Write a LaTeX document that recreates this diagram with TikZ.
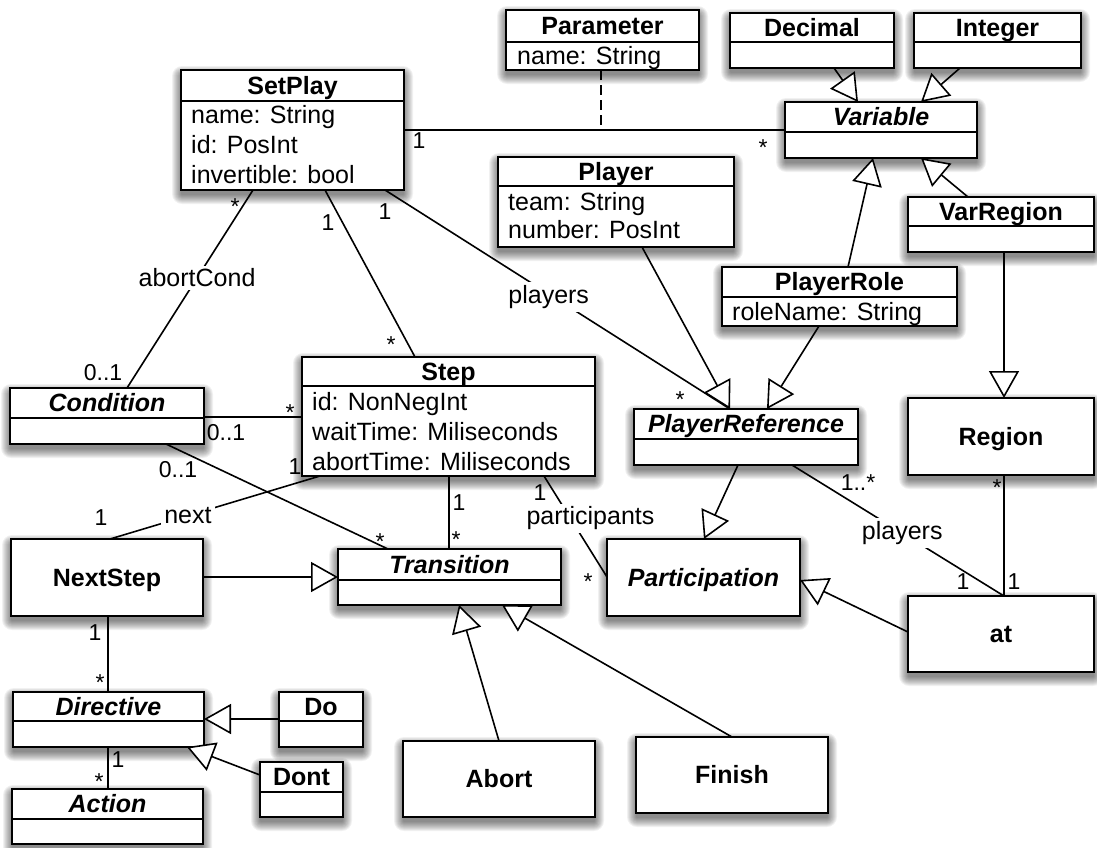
\documentclass[tikz,border=0pt]{standalone}
\usepackage{fontspec}
\setmainfont{Liberation Sans}
\usetikzlibrary{arrows.meta,calc}
\pgfdeclarelayer{paper}
\pgfdeclarelayer{shade}
\pgfsetlayers{paper,shade,main}

\tikzset{
  classbox/.style={draw, fill=white, line width=2.2pt, inner sep=0pt, outer sep=0pt},
  sepline/.style={line width=2.2pt},
  ctitle/.style={font=\fontsize{25}{30}\selectfont\bfseries, anchor=base, inner sep=0pt},
  atitle/.style={font=\fontsize{25}{30}\selectfont\bfseries\itshape, anchor=base, inner sep=0pt},
  attr/.style={font=\fontsize{25}{30}\selectfont, anchor=base west, inner sep=0pt},
  assoc/.style={line width=1.6pt},
  dep/.style={line width=1.6pt, dash pattern=on 10pt off 5pt},
  gen/.style={line width=1.6pt, -{Triangle[length=27pt, width=30pt, fill=white, line width=1.6pt]}},
  role/.style={font=\fontsize{25}{30}\selectfont, fill=white, inner sep=3pt},
  mult/.style={font=\fontsize{23}{28}\selectfont, inner sep=0pt},
  mstar/.style={mult, yshift=-5pt},
}

% soft drop shadow below a box given by its corners
\newcommand{\umlshade}[4]{%
  \begin{pgfonlayer}{shade}
    \foreach \r in {1,...,10}{
      \fill[black, opacity=0.055, rounded corners=\r pt]
        (#1-\r+1,#2+6-\r) rectangle (#3+\r-1,#4+4+\r);
    }
  \end{pgfonlayer}}
% class frame: name, x1, y1, x2, y2
\newcommand{\umlbox}[5]{%
  \umlshade{#2}{#3}{#4}{#5}
  \node[classbox, minimum width={(#4-#2)*1pt}, minimum height={(#5-#3)*1pt},
        anchor=north west] (#1) at (#2,#3) {};}
% compartment separator: box name, y
\newcommand{\umlsep}[2]{\draw[sepline] (#1.west |- 0,#2) -- (#1.east |- 0,#2);}

\begin{document}
\begin{tikzpicture}[x=1pt, y=-1pt]
\path[use as bounding box] (0,0) rectangle (1097,847);
\begin{pgfonlayer}{paper}
  \fill[white] (0,0) rectangle (1097,847);
\end{pgfonlayer}

% ---------- classes ----------
\umlbox{setplay}{181}{70}{404}{190}\umlsep{setplay}{101}
\node[ctitle] (setplay-t) at (292.5,94) {SetPlay};
\node[attr] (setplay-a1) at (191,123) {name: String};
\node[attr] (setplay-a2) at (191,153) {id: PosInt};
\node[attr] (setplay-a3) at (191,183) {invertible: bool};

\umlbox{parameter}{506}{10}{699}{70}\umlsep{parameter}{42}
\node[ctitle] (parameter-t) at (602.5,34.5) {Parameter};
\node[attr] (parameter-a1) at (517,64) {name: String};

\umlbox{decimal}{730}{13}{894}{68}\umlsep{decimal}{42}
\node[ctitle] (decimal-t) at (812,36) {Decimal};

\umlbox{integer}{914}{13}{1081}{68}\umlsep{integer}{42}
\node[ctitle] (integer-t) at (997.5,36) {Integer};

\umlbox{variable}{785}{102}{977}{158}\umlsep{variable}{132}
\node[atitle] (variable-t) at (881,125.5) {Variable};

\umlbox{player}{498}{157}{734}{247}\umlsep{player}{186}
\node[ctitle] (player-t) at (616,180) {Player};
\node[attr] (player-a1) at (508,210) {team: String};
\node[attr] (player-a2) at (508,238) {number: PosInt};

\umlbox{varregion}{908}{197}{1094}{252}\umlsep{varregion}{226}
\node[ctitle] (varregion-t) at (1001,220) {VarRegion};

\umlbox{playerrole}{722}{267}{957}{326}\umlsep{playerrole}{297}
\node[ctitle] (playerrole-t) at (839.5,290.5) {PlayerRole};
\node[attr] (playerrole-a1) at (732,320) {roleName: String};

\umlbox{condition}{10}{388}{204}{444}\umlsep{condition}{418}
\node[atitle] (condition-t) at (107,411.5) {Condition};

\umlbox{stepbox}{302}{357}{595}{476}\umlsep{stepbox}{386}
\node[ctitle] (stepbox-t) at (448.5,380) {Step};
\node[attr] (stepbox-a1) at (312,410) {id: NonNegInt};
\node[attr] (stepbox-a2) at (312,440) {waitTime: Miliseconds};
\node[attr] (stepbox-a3) at (312,470) {abortTime: Miliseconds};

\umlbox{playerref}{634}{409}{858}{465}\umlsep{playerref}{439}
\node[atitle] (playerref-t) at (746,432.5) {PlayerReference};

\umlbox{region}{908}{398}{1094}{475}
\node[ctitle] (region-t) at (1001,445) {Region};

\umlbox{nextstep}{11}{539}{203}{616}
\node[ctitle] (nextstep-t) at (107,586) {NextStep};

\umlbox{transition}{338}{549}{561}{605}\umlsep{transition}{580}
\node[atitle] (transition-t) at (449.5,573) {Transition};

\umlbox{participation}{607}{539}{800}{616}
\node[atitle] (participation-t) at (703.5,586) {Participation};

\umlbox{atbox}{908}{596}{1094}{672}
\node[ctitle] (atbox-t) at (1001,642.5) {at};

\umlbox{directive}{13}{692}{204}{747}\umlsep{directive}{721}
\node[atitle] (directive-t) at (108.5,715) {Directive};

\umlbox{dobox}{279}{692}{363}{747}\umlsep{dobox}{721}
\node[ctitle] (dobox-t) at (321,715) {Do};

\umlbox{dontbox}{260}{762}{343}{817}\umlsep{dontbox}{792}
\node[ctitle] (dontbox-t) at (301.5,785.5) {Dont};

\umlbox{action}{12}{789}{203}{844}\umlsep{action}{819}
\node[atitle] (action-t) at (107.5,812.5) {Action};

\umlbox{abort}{403}{741}{595}{817}
\node[ctitle] (abort-t) at (499,787.5) {Abort};

\umlbox{finish}{636}{737}{828}{813}
\node[ctitle] (finish-t) at (732,783.5) {Finish};

% ---------- associations ----------
\coordinate (paramjoin) at (601,130);
\draw[assoc] (setplay.east |- 0,130) -- (variable.west |- 0,130);
\draw[dep] (parameter.south -| 601,0) -- (paramjoin);
\node[mult] (m-sv1) at (419,141) {1};
\node[mstar] (m-sv2) at (763,143) {*};

\draw[assoc] (setplay.south -| 253,0) -- node[role, pos=0.444] (l-abort) {abortCond} (condition.north -| 127,0);
\node[mstar] (m-sc1) at (235,202) {*};
\node[mult] (m-sc2) at (103,373) {0..1};

\draw[assoc] (setplay.south -| 325,0) -- (stepbox.north -| 415,0);
\node[mult] (m-ss1) at (328,223) {1};
\node[mstar] (m-ss2) at (391,340) {*};

\draw[assoc] (setplay.south -| 385,0) -- node[role, pos=0.489, xshift=-5pt] (l-players1) {players} (playerref.north -| 730,0);
\node[mult] (m-sp1) at (385,212) {1};
\node[mstar] (m-sp2) at (680,395) {*};

\draw[assoc] (playerref.south -| 792,0) -- node[role, pos=0.52] (l-players2) {players} (atbox.north -| 1004,0);
\node[mult] (m-pa1) at (858,483) {1..*};
\node[mult] (m-pa2) at (963,582) {1};

\draw[assoc] (region.south -| 1004,0) -- (atbox.north -| 1004,0);
\node[mstar] (m-ra1) at (997,483) {*};
\node[mult] (m-ra2) at (1014,582) {1};

\draw[assoc] (condition.east |- 0,417) -- (stepbox.west |- 0,417);
\node[mstar] (m-cs1) at (290,408) {*};
\node[mult] (m-cs2) at (226,433) {0..1};

\draw[assoc] (condition.south -| 166,0) -- (transition.north -| 388,0);
\node[mult] (m-ct1) at (178,470) {0..1};
\node[mstar] (m-ct2) at (380,537) {*};

\draw[assoc] (stepbox.south -| 320,0) -- node[role, pos=0.629] (l-next) {next} (nextstep.north -| 110,0);
\node[mult] (m-sn1) at (295,467) {1};
\node[mult] (m-sn2) at (101,518) {1};

\draw[assoc] (stepbox.south -| 449,0) -- (transition.north -| 449,0);
\node[mult] (m-st1) at (459,503) {1};
\node[mstar] (m-st2) at (456,535) {*};

\draw[assoc] (stepbox.south -| 544,0) -- node[role, pos=0.42, xshift=20pt] (l-part) {participants} (participation.west |- 0,577);
\node[mult] (m-sq1) at (540,493) {1};
\node[mstar] (m-sq2) at (588,577) {*};

\draw[assoc] (nextstep.south -| 108,0) -- (directive.north -| 108,0);
\node[mult] (m-nd1) at (95,633) {1};
\node[mstar] (m-nd2) at (100,678) {*};

\draw[assoc] (directive.south -| 108,0) -- (action.north -| 108,0);
\node[mult] (m-da1) at (118,760) {1};
\node[mstar] (m-da2) at (99,777) {*};

% ---------- generalizations ----------
\draw[gen] (decimal.south -| 834,0) -- (variable.north -| 858,0);
\draw[gen] (integer.south -| 960,0) -- (variable.north -| 921,0);
\draw[gen] (playerrole.north -| 848,0) -- (variable.south -| 873,0);
\draw[gen] (varregion.north -| 968,0) -- (variable.south -| 921,0);
\draw[gen] (varregion.south -| 1004,0) -- (region.north -| 1004,0);
\draw[gen] (player.south -| 642,0) -- (playerref.north -| 730,0);
\draw[gen] (playerrole.south -| 819,0) -- (playerref.north -| 767,0);
\draw[gen] (playerref.south -| 738,0) -- (participation.north -| 704,0);
\draw[gen] (atbox.west |- 0,632) -- (participation.east |- 0,580);
\draw[gen] (nextstep.east |- 0,577) -- (transition.west |- 0,577);
\draw[gen] (dobox.west |- 0,719) -- (directive.east |- 0,719);
\draw[gen] (dontbox.west |- 0,775) -- (directive.south -| 187,0);
\draw[gen] (abort.north -| 499,0) -- (transition.south -| 459,0);
\draw[gen] (finish.north -| 732,0) -- (transition.south -| 502,0);
\end{tikzpicture}
\end{document}
